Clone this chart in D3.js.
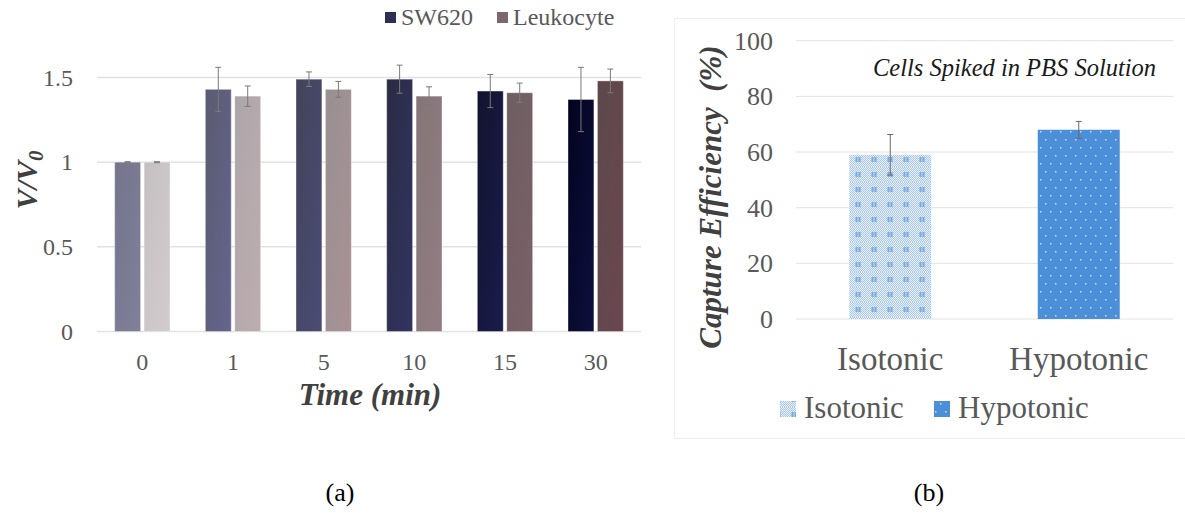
<!DOCTYPE html>
<html>
<head>
<meta charset="utf-8">
<script src="https://cdn.jsdelivr.net/npm/d3@7"></script>
<style>
  body { margin: 0; background: #fff; }
  svg text { font-family: "Liberation Serif", "Times New Roman", serif; }
</style>
</head>
<body>
<svg id="fig" width="1185" height="513"></svg>
<script>
// (a) cell volume vs time
const times = ["0", "1", "5", "10", "15", "30"]
const seriesNames = ["SW620", "Leukocyte"]
const sw620 = [1.00, 1.43, 1.49, 1.49, 1.42, 1.37]
const sw620Err = [0.003, 0.13, 0.043, 0.083, 0.098, 0.19]
const leukocyte = [1.00, 1.39, 1.43, 1.39, 1.41, 1.48]
const leukocyteErr = [0.003, 0.06, 0.047, 0.055, 0.057, 0.07]
const volumeTicks = [0, 0.5, 1, 1.5]

// (b) capture efficiency
const solutions = ["Isotonic", "Hypotonic"]
const efficiency = [59, 68]
const efficiencyErr = [7.3, 3]
const efficiencyTicks = [0, 20, 40, 60, 80, 100]

// gradient stops per bar (top-left -> bottom-right), Excel style shading
const swShades = [["#74748a", "#80809c"], ["#5b5b70", "#64658e"], ["#43435a", "#4b4c76"],
                  ["#2b2b44", "#333461"], ["#13132e", "#1a1c4c"], ["#03031f", "#0e103e"]]
const leukShades = [["#c4c0c2", "#d3cbcd"], ["#aca6a8", "#bdadb1"], ["#989092", "#a99195"],
                    ["#837677", "#937d83"], ["#6c5e60", "#7b6169"], ["#5c484a", "#6b4751"]]

const svg = d3.select("#fig")
const defs = svg.append("defs")

function addGradient(id, stops) {
    const g = defs.append("linearGradient").attr("id", id)
        .attr("x1", 0).attr("y1", 0).attr("x2", 1).attr("y2", 1)
    g.append("stop").attr("offset", "0%").attr("stop-color", stops[0])
    g.append("stop").attr("offset", "100%").attr("stop-color", stops[1])
}

///
/// Left chart
///
const xA = d3.scaleBand().domain(times).range([97, 641]).paddingInner(0.39).paddingOuter(0.195)
const xSub = d3.scaleBand().domain(seriesNames).range([0, xA.bandwidth()]).paddingInner(0.12)
const yA = d3.scaleLinear().domain([0, 1.5]).range([331.5, 77.5])

const gA = svg.append("g")

// gridlines
gA.append("g").selectAll("line").data(volumeTicks).join("line")
    .attr("x1", 97).attr("x2", 641)
    .attr("y1", d => yA(d)).attr("y2", d => yA(d))
    .attr("stroke", "#e2e2e2").attr("stroke-width", 1.5)

// y axis labels
gA.append("g").attr("transform", "translate(97,0)")
    .call(d3.axisLeft(yA).tickValues(volumeTicks).tickSize(0).tickPadding(24).tickFormat(d3.format("")))
    .call(g => g.select(".domain").remove())
    .selectAll("text").attr("font-size", 24).attr("fill", "#595959")
    .attr("font-family", "Liberation Serif")

// x axis labels
gA.append("g").attr("transform", "translate(0,331.5)")
    .call(d3.axisBottom(xA).tickSize(0).tickPadding(21))
    .call(g => g.select(".domain").remove())
    .selectAll("text").attr("font-size", 24).attr("fill", "#595959")
    .attr("font-family", "Liberation Serif")

const volumeData = []
for (let i = 0; i < times.length; i++) {
    volumeData.push({t: times[i], s: "SW620", v: sw620[i], e: sw620Err[i], shade: swShades[i], id: `sw${i}`})
    volumeData.push({t: times[i], s: "Leukocyte", v: leukocyte[i], e: leukocyteErr[i], shade: leukShades[i], id: `lk${i}`})
}
volumeData.forEach(d => addGradient(`grad-${d.id}`, d.shade))

gA.append("g").selectAll("rect").data(volumeData).join("rect")
    .attr("x", d => xA(d.t) + xSub(d.s))
    .attr("y", d => yA(d.v))
    .attr("width", xSub.bandwidth())
    .attr("height", d => yA(0) - yA(d.v))
    .attr("fill", d => `url(#grad-${d.id})`)
    .attr("stroke", "#ffffff").attr("stroke-opacity", 0.35).attr("stroke-width", 1)

// error bars
const errA = gA.append("g").attr("stroke", "#7a7a7a").attr("stroke-width", 1)
volumeData.forEach(d => {
    const cx = xA(d.t) + xSub(d.s) + xSub.bandwidth() / 2
    errA.append("line").attr("x1", cx).attr("x2", cx).attr("y1", yA(d.v + d.e)).attr("y2", yA(d.v - d.e))
    errA.append("line").attr("x1", cx - 3).attr("x2", cx + 3).attr("y1", yA(d.v + d.e)).attr("y2", yA(d.v + d.e))
    errA.append("line").attr("x1", cx - 3).attr("x2", cx + 3).attr("y1", yA(d.v - d.e)).attr("y2", yA(d.v - d.e))
})

// legend
const legendA = [{name: "SW620", x: 385, color: "#2d2f55"}, {name: "Leukocyte", x: 497, color: "#7c676b"}]
legendA.forEach(l => {
    gA.append("rect").attr("x", l.x).attr("y", 12).attr("width", 11).attr("height", 11).attr("fill", l.color)
    gA.append("text").attr("x", l.x + 16).attr("y", 25).attr("font-size", 24).attr("fill", "#595959").text(l.name)
})

// axis titles
gA.append("text").attr("x", 370).attr("y", 405).attr("text-anchor", "middle")
    .attr("font-size", 31).attr("font-weight", "bold").attr("font-style", "italic").attr("fill", "#404040")
    .text("Time (min)")

const vTitle = gA.append("text").attr("transform", "translate(37,180) rotate(-90)").attr("text-anchor", "middle")
    .attr("font-size", 30).attr("font-weight", "bold").attr("font-style", "italic").attr("fill", "#404040")
vTitle.append("tspan").text("V/V")
vTitle.append("tspan").attr("font-size", 21).attr("dy", 6).text("0")

///
/// Right chart
///

// patterns for the two bars
const checker = defs.append("pattern").attr("id", "checker").attr("patternUnits", "userSpaceOnUse")
    .attr("width", 2).attr("height", 2)
checker.append("rect").attr("width", 2).attr("height", 2).attr("fill", "#e8f0fa")
checker.append("rect").attr("width", 1).attr("height", 1).attr("fill", "#a9c8ec")
checker.append("rect").attr("x", 1).attr("y", 1).attr("width", 1).attr("height", 1).attr("fill", "#a9c8ec")

const iso = defs.append("pattern").attr("id", "iso").attr("patternUnits", "userSpaceOnUse")
    .attr("width", 16).attr("height", 15).attr("x", 850).attr("y", 2)
iso.append("rect").attr("width", 16).attr("height", 15).attr("fill", "url(#checker)")
iso.append("rect").attr("x", 5).attr("y", 5).attr("width", 6).attr("height", 5).attr("fill", "#9fc2ea")
iso.append("rect").attr("x", 6).attr("y", 5).attr("width", 1).attr("height", 5).attr("fill", "#7aaae2")
iso.append("rect").attr("x", 9).attr("y", 5).attr("width", 1).attr("height", 5).attr("fill", "#7aaae2")

const hypo = defs.append("pattern").attr("id", "hypo").attr("patternUnits", "userSpaceOnUse")
    .attr("width", 10).attr("height", 16).attr("x", 1038).attr("y", 0)
hypo.append("rect").attr("width", 10).attr("height", 16).attr("fill", "#4a8fd7")
hypo.append("rect").attr("x", 2).attr("y", 3).attr("width", 1.5).attr("height", 1.5).attr("fill", "#c8def6")
hypo.append("rect").attr("x", 7).attr("y", 11).attr("width", 1.5).attr("height", 1.5).attr("fill", "#c8def6")

const solutionFill = ["url(#iso)", "url(#hypo)"]

const xB = d3.scaleBand().domain(solutions).range([796, 1173]).paddingInner(0.565).paddingOuter(0.2825)
const yB = d3.scaleLinear().domain([0, 100]).range([319, 40.7])

const gB = svg.append("g")

// chart frame
gB.append("rect").attr("x", 674.5).attr("y", 18.5).attr("width", 520).attr("height", 420)
    .attr("fill", "none").attr("stroke", "#eeeeee")

gB.append("g").selectAll("line").data(efficiencyTicks).join("line")
    .attr("x1", 796).attr("x2", 1173)
    .attr("y1", d => yB(d)).attr("y2", d => yB(d))
    .attr("stroke", "#e2e2e2").attr("stroke-width", 1)

gB.append("g").attr("transform", "translate(796,0)")
    .call(d3.axisLeft(yB).tickValues(efficiencyTicks).tickSize(0).tickPadding(23))
    .call(g => g.select(".domain").remove())
    .selectAll("text").attr("font-size", 26).attr("fill", "#595959")
    .attr("font-family", "Liberation Serif")

gB.append("g").attr("transform", "translate(0,319)")
    .call(d3.axisBottom(xB).tickSize(0).tickPadding(28))
    .call(g => g.select(".domain").remove())
    .selectAll("text").attr("font-size", 33).attr("fill", "#595959")
    .attr("font-family", "Liberation Serif")

gB.append("g").selectAll("rect").data(solutions).join("rect")
    .attr("x", d => xB(d))
    .attr("y", (d, i) => yB(efficiency[i]))
    .attr("width", xB.bandwidth())
    .attr("height", (d, i) => yB(0) - yB(efficiency[i]))
    .attr("fill", (d, i) => solutionFill[i])

const errB = gB.append("g").attr("stroke", "#6a6a6a").attr("stroke-width", 1)
solutions.forEach((s, i) => {
    const cx = xB(s) + xB.bandwidth() / 2
    const hi = yB(efficiency[i] + efficiencyErr[i])
    const lo = yB(efficiency[i] - efficiencyErr[i])
    errB.append("line").attr("x1", cx).attr("x2", cx).attr("y1", hi).attr("y2", lo)
    errB.append("line").attr("x1", cx - 3).attr("x2", cx + 3).attr("y1", hi).attr("y2", hi)
    errB.append("line").attr("x1", cx - 3).attr("x2", cx + 3).attr("y1", lo).attr("y2", lo)
})

// annotation
gB.append("text").attr("x", 873).attr("y", 76).attr("font-size", 24.5).attr("font-style", "italic")
    .attr("fill", "#1a1a1a").text("Cells Spiked in PBS Solution")

gB.append("text").attr("transform", "translate(721,197) rotate(-90)").attr("text-anchor", "middle")
    .attr("font-size", 31).attr("font-weight", "bold").attr("font-style", "italic").attr("fill", "#404040")
    .text("Capture Efficiency \u00a0(%)")

// legend
const legendB = [{name: "Isotonic", x: 780}, {name: "Hypotonic", x: 934}]
legendB.forEach((l, i) => {
    gB.append("rect").attr("x", l.x).attr("y", 401).attr("width", 16).attr("height", 16).attr("fill", solutionFill[i])
    gB.append("text").attr("x", l.x + 24).attr("y", 418).attr("font-size", 31).attr("fill", "#595959").text(l.name)
})

// panel captions
svg.append("text").attr("x", 340).attr("y", 501).attr("text-anchor", "middle").attr("font-size", 26).text("(a)")
svg.append("text").attr("x", 929).attr("y", 501).attr("text-anchor", "middle").attr("font-size", 26).text("(b)")
</script>
</body>
</html>
